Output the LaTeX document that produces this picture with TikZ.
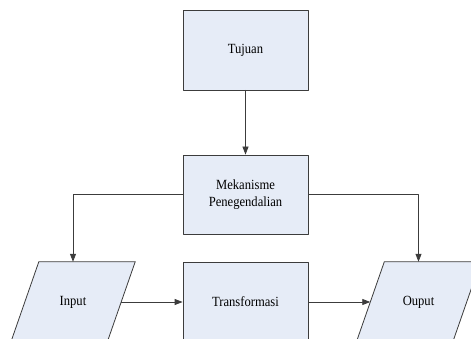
\documentclass[tikz,border=0pt]{standalone}
\usepackage{fontspec}
\setmainfont{Liberation Serif}
\newfontfamily\labelfont[FakeStretch=0.9]{Liberation Serif}
\usepackage{tikz}
\usetikzlibrary{arrows.meta,backgrounds}
\definecolor{boxfill}{RGB}{230,236,247}
\definecolor{edge}{RGB}{60,60,60}
\tikzset{
  blok/.style={draw=edge,fill=boxfill,line width=0.8pt,minimum width=125pt,minimum height=80pt,align=center,font=\labelfont\fontsize{14}{17}\selectfont},
  miring/.style={minimum width=96pt,minimum height=80pt,font=\labelfont\fontsize{14}{17}\selectfont},
  panah/.style={->,draw=edge,line width=0.8pt}
}
\begin{document}
\begin{tikzpicture}[line cap=round,line join=round,>={Triangle[length=8pt,width=6pt]},x=1pt,y=-1pt]
        \useasboundingbox (0,0) rectangle (471,339);
        \clip (0,0) rectangle (471,339);
        \node[blok] (tujuan) at (245.5,50) {Tujuan};
        \node[blok,minimum height=79pt] (mekanisme) at (245.5,194.5) {Mekanisme\\Penegendalian};
        \node[blok] (transformasi) at (245.5,302) {Transformasi};
        \node[miring] (input) at (73,302) {Input};
        \node[miring] (output) at (418.5,302) {Ouput};
        % jajaran genjang di belakang teks
        \begin{scope}[on background layer]
            \foreach \n in {input,output}
                \draw [draw=edge,fill=boxfill,line width=0.8pt] ([xshift=-14pt]\n.south west) -- ([xshift=14pt]\n.north west) -- ([xshift=14pt]\n.north east) -- ([xshift=-14pt]\n.south east) -- cycle;
        \end{scope}
        \draw [panah] (tujuan) -- (mekanisme);
        \draw [panah] (mekanisme.west) -| (input.north);
        \draw [panah] (mekanisme.east) -| (output.north);
        \draw [panah] (input.east) -- (transformasi.west);
        \draw [panah] (transformasi.east) -- (output.west);
    \end{tikzpicture}
\end{document}
